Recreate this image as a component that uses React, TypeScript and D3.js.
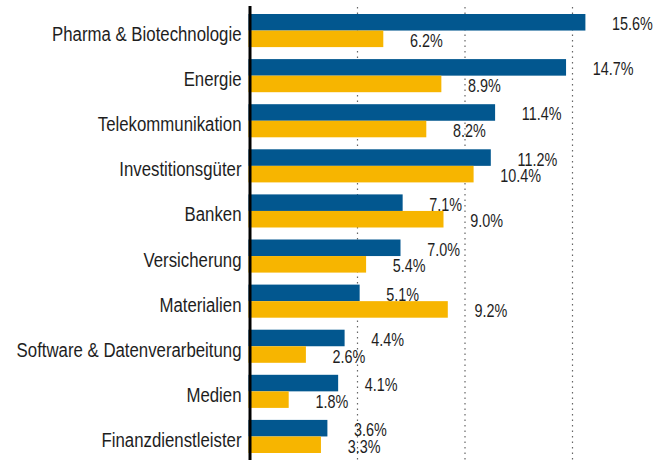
import React from "react";
import * as d3 from "d3";

const categories = [
  "Pharma & Biotechnologie",
  "Energie",
  "Telekommunikation",
  "Investitionsgüter",
  "Banken",
  "Versicherung",
  "Materialien",
  "Software & Datenverarbeitung",
  "Medien",
  "Finanzdienstleister",
];
const seriesBlue = [15.6, 14.7, 11.4, 11.2, 7.1, 7.0, 5.1, 4.4, 4.1, 3.6];
const seriesYellow = [6.2, 8.9, 8.2, 10.4, 9.0, 5.4, 9.2, 2.6, 1.8, 3.3];
const gridTicks = [5, 10, 15];

const W = 672;
const H = 460;
const BLUE = "#02578f";
const YELLOW = "#f7b500";
const FONT = "'Liberation Sans', Arial, sans-serif";
const SX = 0.8;

function CText(props: { x: number; y: number; size: number; anchor?: string; children: React.ReactNode }) {
  return (
    <text
      transform={`translate(${props.x},${props.y}) scale(${SX},1)`}
      textAnchor={props.anchor || "start"}
      fontFamily={FONT}
      fontSize={props.size}
      fill="#1e1e1e"
    >
      {props.children}
    </text>
  );
}

export default function App() {
  const x = d3.scaleLinear().domain([0, 15]).range([250, 572.5]);
  const y = d3
    .scaleBand<string>()
    .domain(categories)
    .range([14, 453])
    .paddingInner(0.266)
    .paddingOuter(0);
  const bw = y.bandwidth() / 2;
  const fmt = (v: number) => v.toFixed(1) + "%";

  return (
    <svg
      width={W}
      height={H}
      style={{ position: "absolute", left: 0, top: 0, background: "#fff" }}
    >
      {gridTicks.map((t) => (
        <line
          key={t}
          x1={x(t)}
          x2={x(t)}
          y1={7}
          y2={H}
          stroke="#666"
          strokeWidth={1.2}
          strokeDasharray="1.5 4"
        />
      ))}
      {categories.map((c, i) => {
        const y0 = y(c)!;
        return (
          <g key={c}>
            <rect x={x(0) - 1.5} y={y0} width={x(seriesBlue[i]) - x(0) + 1.5} height={bw} fill={BLUE} />
            <rect x={x(0) - 1.5} y={y0 + bw} width={x(seriesYellow[i]) - x(0) + 1.5} height={bw} fill={YELLOW} />
            <CText x={241.5} y={y0 + y.bandwidth() / 2 + 10.5} size={21} anchor="end">
              {c}
            </CText>
            <CText x={x(seriesBlue[i]) + 26.7} y={y0 + bw - 0.3} size={18}>
              {fmt(seriesBlue[i])}
            </CText>
            <CText x={x(seriesYellow[i]) + 26.7} y={y0 + 2 * bw - 0.3} size={18}>
              {fmt(seriesYellow[i])}
            </CText>
          </g>
        );
      })}
      <line x1={x(0)} x2={x(0)} y1={6} y2={H} stroke="#000" strokeWidth={3} />
    </svg>
  );
}
